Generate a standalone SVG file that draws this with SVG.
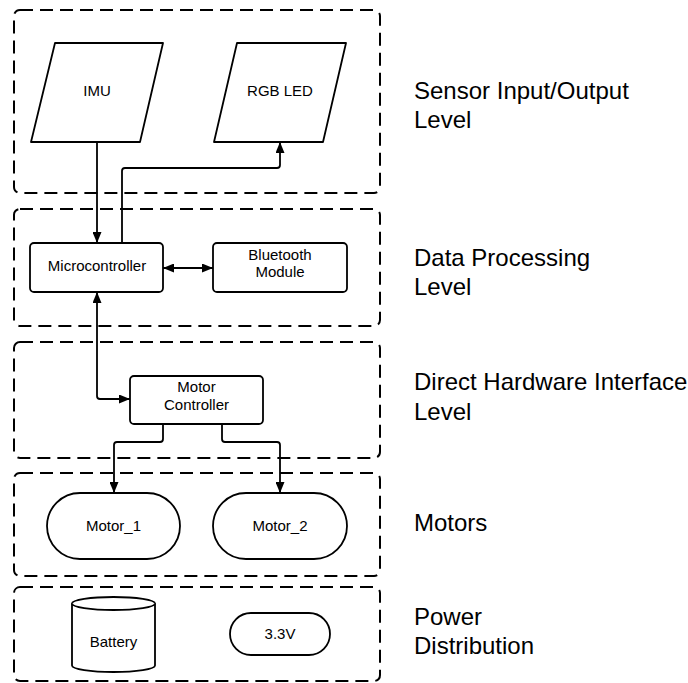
<svg xmlns="http://www.w3.org/2000/svg" width="688" height="683" viewBox="0 0 688 683">
<style>
.lvl{fill:none;stroke:#000;stroke-width:2;stroke-dasharray:13 7}
.node{fill:#fff;stroke:#000;stroke-width:1.8;stroke-linejoin:round}
.t{font-family:"Liberation Sans",Arial,sans-serif;font-size:15px;fill:#000;text-anchor:middle}
.lab{font-family:"Liberation Sans",Arial,sans-serif;font-size:24px;fill:#000}
.conn{fill:none;stroke:#000;stroke-width:1.8}
</style>
<defs>
<marker id="arr" viewBox="0 0 11 9" refX="11" refY="4.5" markerWidth="11" markerHeight="9" markerUnits="userSpaceOnUse" orient="auto-start-reverse">
<path d="M0,0 L11,4.5 L0,9 z" fill="#000"/>
</marker>
</defs>
<rect fill="#fff" width="688" height="683"/>
<g id="levels">
<rect class="lvl" x="14" y="10" width="366" height="183" rx="6"/>
<rect class="lvl" x="14" y="209" width="366" height="117" rx="6"/>
<rect class="lvl" x="14" y="342" width="366" height="116" rx="6"/>
<rect class="lvl" x="14" y="473" width="366" height="103" rx="6"/>
<rect class="lvl" x="14" y="587" width="366" height="94" rx="6"/>
</g>
<g id="labels">
<text class="lab" x="414" y="99">Sensor Input/Output</text>
<text class="lab" x="414" y="128">Level</text>
<text class="lab" x="414" y="266">Data Processing</text>
<text class="lab" x="414" y="295">Level</text>
<text class="lab" x="414" y="390">Direct Hardware Interface</text>
<text class="lab" x="414" y="420">Level</text>
<text class="lab" x="414" y="531">Motors</text>
<text class="lab" x="414" y="625">Power</text>
<text class="lab" x="414" y="654">Distribution</text>
</g>
<g id="connectors">
<path class="conn" d="M97 142 V243" marker-end="url(#arr)"/>
<path class="conn" d="M122 243 V171 Q122 168 125 168 H277 Q280 168 280 165 V142" marker-end="url(#arr)"/>
<path class="conn" d="M163 268 H213" marker-start="url(#arr)" marker-end="url(#arr)"/>
<path class="conn" d="M97 292 V396 Q97 399 100 399 H130" marker-start="url(#arr)" marker-end="url(#arr)"/>
<path class="conn" d="M163 424 V439 Q163 442 160 442 H117 Q114 442 114 445 V493" marker-end="url(#arr)"/>
<path class="conn" d="M222 424 V439 Q222 442 225 442 H277 Q280 442 280 445 V493" marker-end="url(#arr)"/>
</g>
<g id="imu">
<path class="node" d="M55 43 H163 L140 142 H31 Z"/>
<text class="t" x="97" y="96">IMU</text>
</g>
<g id="rgb-led">
<path class="node" d="M237 43 H346 L323 142 H214 Z"/>
<text class="t" x="280" y="96">RGB LED</text>
</g>
<g id="microcontroller">
<rect class="node" x="30" y="243" width="133" height="49" rx="4"/>
<text class="t" x="97" y="271">Microcontroller</text>
</g>
<g id="bluetooth">
<rect class="node" x="213" y="243" width="134" height="49" rx="4"/>
<text class="t" x="280" y="260">Bluetooth</text>
<text class="t" x="280" y="277">Module</text>
</g>
<g id="motor-controller">
<rect class="node" x="130" y="376" width="133" height="48" rx="4"/>
<text class="t" x="196.5" y="392">Motor</text>
<text class="t" x="196.5" y="410">Controller</text>
</g>
<g id="motor1">
<rect class="node" x="47" y="493" width="133" height="66" rx="33"/>
<text class="t" x="113.5" y="531">Motor_1</text>
</g>
<g id="motor2">
<rect class="node" x="213" y="493" width="134" height="66" rx="33"/>
<text class="t" x="280" y="531">Motor_2</text>
</g>
<g id="battery">
<path class="node" d="M72 603.5 A41.5 6.5 0 0 1 155 603.5 V665.5 A41.5 6.5 0 0 1 72 665.5 Z"/>
<path class="node" d="M72 603.5 A41.5 6.5 0 0 0 155 603.5" fill="none"/>
<text class="t" x="113.5" y="647">Battery</text>
</g>
<g id="v33">
<rect class="node" x="230" y="613" width="100" height="42" rx="21"/>
<text class="t" x="280" y="639">3.3V</text>
</g>
</svg>
